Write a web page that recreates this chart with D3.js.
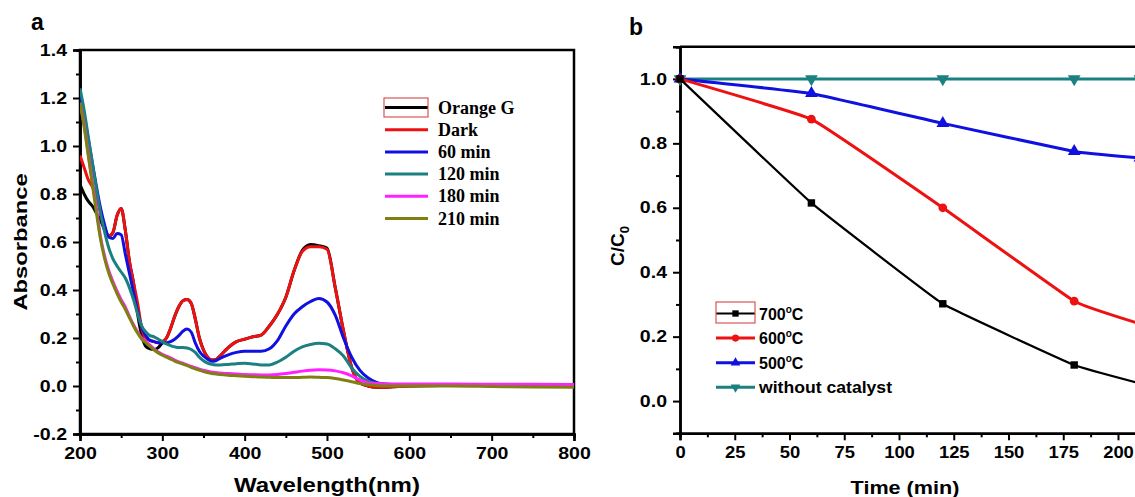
<!DOCTYPE html>
<html>
<head>
<meta charset="utf-8">
<script src="https://cdn.jsdelivr.net/npm/d3@7"></script>
<style>
  body { margin: 0; background: #fff; }
  svg { display: block; }
  .tick text { font-family: Arial, "Liberation Sans", sans-serif; font-weight: bold; }
</style>
</head>
<body>
<div id="chart"></div>
<script>
// ---- panel a : UV-vis spectra ----
var wavelength = [200,205,210,215,220,225,230,235,240,245,250,255,260,265,270,275,280,285,290,295,
  300,305,310,315,320,325,330,335,340,345,350,355,360,365,370,380,390,400,410,420,
  430,440,450,460,470,480,490,500,510,520,530,540,550,560,570,580,600,650,700,750,800];

var orangeG = [0.84,0.80,0.77,0.75,0.72,0.69,0.65,0.625,0.64,0.71,0.74,0.65,0.52,0.43,0.30,0.21,0.165,0.155,0.152,0.16,
  0.18,0.2,0.24,0.29,0.33,0.355,0.36,0.345,0.28,0.2,0.15,0.12,0.108,0.11,0.125,0.16,0.185,0.195,0.205,0.212,
  0.25,0.30,0.37,0.48,0.565,0.59,0.585,0.575,0.41,0.23,0.077,0.012,0.0,-0.005,-0.005,-0.003,0.0,0.002,0.003,0.003,0.002];
var dark = [0.96,0.91,0.86,0.83,0.79,0.72,0.66,0.625,0.64,0.71,0.74,0.65,0.52,0.43,0.345,0.24,0.2,0.19,0.185,0.18,
  0.185,0.2,0.24,0.29,0.33,0.355,0.36,0.345,0.28,0.2,0.15,0.12,0.108,0.11,0.125,0.16,0.185,0.195,0.205,0.212,
  0.25,0.30,0.37,0.48,0.56,0.58,0.58,0.57,0.41,0.23,0.077,0.012,0.0,-0.005,-0.005,-0.003,0.0,0.002,0.003,0.003,0.002];
var min60 = [1.21,1.13,1.03,0.93,0.83,0.74,0.67,0.62,0.615,0.635,0.63,0.55,0.47,0.39,0.31,0.245,0.21,0.19,0.185,0.18,
  0.18,0.18,0.185,0.195,0.21,0.228,0.237,0.225,0.18,0.145,0.125,0.112,0.103,0.105,0.115,0.13,0.14,0.145,0.145,0.145,
  0.155,0.19,0.25,0.30,0.33,0.352,0.365,0.35,0.295,0.2,0.12,0.065,0.033,0.015,0.008,0.006,0.005,0.005,0.005,0.004,0.003];
var min120 = [1.24,1.15,1.04,0.93,0.82,0.72,0.64,0.575,0.53,0.5,0.475,0.45,0.41,0.36,0.30,0.25,0.225,0.21,0.205,0.195,
  0.185,0.175,0.168,0.163,0.16,0.16,0.158,0.152,0.14,0.12,0.105,0.095,0.09,0.088,0.088,0.09,0.093,0.095,0.092,0.088,
  0.088,0.1,0.12,0.145,0.163,0.173,0.178,0.175,0.155,0.125,0.075,0.04,0.02,0.01,0.007,0.006,0.005,0.005,0.004,0.004,0.003];
var min180 = [1.18,1.09,0.97,0.85,0.74,0.62,0.54,0.48,0.435,0.395,0.36,0.33,0.29,0.255,0.225,0.2,0.185,0.17,0.155,0.142,
  0.132,0.124,0.117,0.108,0.1,0.095,0.088,0.082,0.076,0.07,0.066,0.062,0.058,0.056,0.054,0.052,0.05,0.048,0.047,0.046,
  0.046,0.048,0.052,0.057,0.062,0.066,0.068,0.067,0.063,0.055,0.042,0.025,0.014,0.01,0.008,0.008,0.008,0.008,0.007,0.007,0.006];
var min210 = [1.18,1.08,0.96,0.84,0.72,0.61,0.53,0.47,0.425,0.385,0.35,0.32,0.285,0.25,0.22,0.195,0.18,0.165,0.15,0.138,
  0.128,0.12,0.112,0.104,0.097,0.091,0.085,0.078,0.072,0.066,0.06,0.056,0.052,0.05,0.048,0.045,0.043,0.041,0.039,0.037,
  0.036,0.035,0.035,0.035,0.036,0.037,0.036,0.035,0.031,0.025,0.018,0.01,0.005,0.002,0.0,0.0,0.0,0.0,-0.002,-0.004,-0.005];

var specNames = ["Orange G", "Dark", "60 min", "120 min", "180 min", "210 min"];
var specColors = ["#000000", "#ee1111", "#1010e0", "#1a8080", "#ff22ff", "#808010"];
var specValues = [orangeG, dark, min60, min120, min180, min210];

var aXTicks = [200, 300, 400, 500, 600, 700, 800];
var aXMinor = [250, 350, 450, 550, 650, 750];
var aYTicks = [-0.2, 0, 0.2, 0.4, 0.6, 0.8, 1.0, 1.2, 1.4];
var aYMinor = [-0.1, 0.1, 0.3, 0.5, 0.7, 0.9, 1.1, 1.3];

// ---- panel b : C/C0 vs time ----
var time = [0, 60, 120, 180, 210];
var c700 = [1.0, 0.615, 0.302, 0.112, 0.055];
var c600 = [1.0, 0.875, 0.60, 0.31, 0.24];
var c500 = [1.0, 0.955, 0.862, 0.775, 0.755];
var cNone = [1.0, 1.0, 1.0, 1.0, 1.0];

var kinNames = ["700", "600", "500", "without catalyst"];
var kinColors = ["#000000", "#ee1111", "#1010e0", "#1a8080"];
var kinValues = [c700, c600, c500, cNone];

var bXTicks = [0, 25, 50, 75, 100, 125, 150, 175, 200];
var bXMinor = [12.5, 37.5, 62.5, 87.5, 112.5, 137.5, 162.5, 187.5];
var bYTicks = [0, 0.2, 0.4, 0.6, 0.8, 1.0];
var bYMinor = [-0.1, 0.1, 0.3, 0.5, 0.7, 0.9, 1.1];

var W = 1135, H = 497;
var svg = d3.select("#chart").append("svg").attr("width", W).attr("height", H);

var sans = "Arial, 'Liberation Sans', sans-serif";

// stretch text horizontally like the source figure
function stretch(sel, k) {
  sel.each(function() {
    var w = this.getComputedTextLength();
    this.setAttribute("textLength", w * k);
    this.setAttribute("lengthAdjust", "spacingAndGlyphs");
  });
}

function styleAxis(g, fs) {
  g.select(".domain").attr("stroke", "#000").attr("stroke-width", 2.5);
  g.selectAll(".tick line").attr("stroke", "#000").attr("stroke-width", 2);
  g.selectAll(".tick text").attr("font-size", fs).attr("fill", "#000");
}

// ================= panel a =================
var xA = d3.scaleLinear().domain([200, 800]).range([80, 574]);
var yA = d3.scaleLinear().domain([-0.2, 1.4]).range([434, 50]);

var gA = svg.append("g");

gA.append("rect").attr("x", 80).attr("y", 50).attr("width", 494).attr("height", 384)
  .attr("fill", "none").attr("stroke", "#000").attr("stroke-width", 2.5);

var axA1 = gA.append("g").attr("transform", "translate(0,434)")
  .call(d3.axisBottom(xA).tickValues(aXMinor).tickSize(4).tickFormat(""));
styleAxis(axA1, 14);
var axA2 = gA.append("g").attr("transform", "translate(0,434)")
  .call(d3.axisBottom(xA).tickValues(aXTicks).tickSize(7).tickPadding(7).tickFormat(d3.format("d")));
styleAxis(axA2, 16);
var axA3 = gA.append("g").attr("transform", "translate(80,0)")
  .call(d3.axisLeft(yA).tickValues(aYMinor).tickSize(4).tickFormat(""));
styleAxis(axA3, 14);
var axA4 = gA.append("g").attr("transform", "translate(80,0)")
  .call(d3.axisLeft(yA).tickValues(aYTicks).tickSize(7).tickPadding(6).tickFormat(function(d) { return d.toFixed(1); }));
styleAxis(axA4, 16);
stretch(axA2.selectAll(".tick text"), 1.22);
stretch(axA4.selectAll(".tick text"), 1.22);

gA.append("defs").append("clipPath").attr("id", "clipA")
  .append("rect").attr("x", 80).attr("y", 50).attr("width", 494).attr("height", 384);

var lineA = d3.line()
  .x(function(d) { return xA(d[0]); })
  .y(function(d) { return yA(d[1]); })
  .curve(d3.curveMonotoneX);

gA.append("g").attr("clip-path", "url(#clipA)")
  .selectAll("path").data(specValues).enter().append("path")
  .attr("d", function(vals) { return lineA(wavelength.map(function(w, i) { return [w, vals[i]]; })); })
  .attr("fill", "none")
  .attr("stroke", function(d, i) { return specColors[i]; })
  .attr("stroke-width", 3)
  .attr("stroke-linejoin", "round");

// legend a
var legA = gA.append("g");
legA.selectAll("line").data(specNames).enter().append("line")
  .attr("x1", 385).attr("x2", 428)
  .attr("y1", function(d, i) { return 107.5 + i * 22.2; })
  .attr("y2", function(d, i) { return 107.5 + i * 22.2; })
  .attr("stroke", function(d, i) { return specColors[i]; })
  .attr("stroke-width", 3);
legA.selectAll("text").data(specNames).enter().append("text")
  .attr("x", 438)
  .attr("y", function(d, i) { return 113.5 + i * 22.2; })
  .attr("font-family", "'Times New Roman', 'Liberation Serif', serif")
  .attr("font-weight", "bold").attr("font-size", 18)
  .text(function(d) { return d; });
legA.append("rect").attr("x", 384).attr("y", 98).attr("width", 44).attr("height", 19)
  .attr("fill", "none").attr("stroke", "#d95555").attr("stroke-width", 1.2);

gA.append("text").attr("x", 31).attr("y", 30)
  .attr("font-family", sans).attr("font-weight", "bold").attr("font-size", 23).text("a");

var titA = gA.append("text").attr("x", 327).attr("y", 492).attr("text-anchor", "middle")
  .attr("font-family", sans).attr("font-weight", "bold").attr("font-size", 20).text("Wavelength(nm)");
stretch(titA, 1.2);
var ylA = gA.append("text").attr("transform", "translate(27,242) rotate(-90)").attr("text-anchor", "middle")
  .attr("font-family", sans).attr("font-weight", "bold").attr("font-size", 19).text("Absorbance");
stretch(ylA, 1.25);

// ================= panel b =================
var xB = d3.scaleLinear().domain([0, 240]).range([680, 680 + 240 * 2.19]);
var yB = d3.scaleLinear().domain([-0.1, 1.1]).range([433.3, 46.7]);

var gB = svg.append("g");

gB.append("line").attr("x1", 680).attr("x2", W + 5).attr("y1", 46.7).attr("y2", 46.7)
  .attr("stroke", "#000").attr("stroke-width", 2.5);

var axB1 = gB.append("g").attr("transform", "translate(0,433.3)")
  .call(d3.axisBottom(xB).tickValues(bXMinor).tickSize(4).tickFormat(""));
styleAxis(axB1, 14);
var axB2 = gB.append("g").attr("transform", "translate(0,433.3)")
  .call(d3.axisBottom(xB).tickValues(bXTicks).tickSize(7).tickPadding(6).tickFormat(d3.format("d")));
styleAxis(axB2, 16);
var axB3 = gB.append("g").attr("transform", "translate(680,0)")
  .call(d3.axisLeft(yB).tickValues(bYMinor).tickSize(4).tickFormat(""));
styleAxis(axB3, 14);
var axB4 = gB.append("g").attr("transform", "translate(680,0)")
  .call(d3.axisLeft(yB).tickValues(bYTicks).tickSize(7).tickPadding(6).tickFormat(function(d) { return d.toFixed(1); }));
styleAxis(axB4, 16);
stretch(axB2.selectAll(".tick text"), 1.15);
stretch(axB4.selectAll(".tick text"), 1.22);

var lineB = d3.line()
  .x(function(d) { return xB(d[0]); })
  .y(function(d) { return yB(d[1]); })
  .curve(d3.curveCardinal.tension(0.75));

var symbols = [
  d3.symbol().type(d3.symbolSquare).size(55),
  d3.symbol().type(d3.symbolCircle).size(60),
  d3.symbol().type(d3.symbolTriangle).size(70),
  d3.symbol().type(d3.symbolTriangle).size(70)
];
var rot = [0, 0, 0, 180];

// draw in reverse so black is on top at the origin
[3, 2, 1, 0].forEach(function(s) {
  var pts = time.map(function(t, i) { return [t, kinValues[s][i]]; });
  gB.append("path").attr("d", lineB(pts))
    .attr("fill", "none").attr("stroke", kinColors[s])
    .attr("stroke-width", s === 0 ? 2.2 : 3);
  gB.selectAll(null).data(pts).enter().append("path")
    .attr("d", symbols[s])
    .attr("transform", function(d) { return "translate(" + xB(d[0]) + "," + yB(d[1]) + ") rotate(" + rot[s] + ")"; })
    .attr("fill", kinColors[s]);
});

// legend b
var legB = gB.append("g");
kinNames.forEach(function(n, i) {
  var y = 313.5 + i * 24.6;
  legB.append("line").attr("x1", 716).attr("x2", 755).attr("y1", y).attr("y2", y)
    .attr("stroke", kinColors[i]).attr("stroke-width", i === 0 ? 2.2 : 3);
  legB.append("path")
    .attr("d", d3.symbol().type(i === 1 ? d3.symbolCircle : (i === 0 ? d3.symbolSquare : d3.symbolTriangle)).size(40))
    .attr("transform", "translate(735.5," + y + ") rotate(" + rot[i] + ")")
    .attr("fill", kinColors[i]);
  var t = legB.append("text").attr("x", 759).attr("y", y + 6)
    .attr("font-family", sans).attr("font-weight", "bold").attr("font-size", 16);
  if (i < 3) {
    t.append("tspan").text(n);
    t.append("tspan").attr("dy", -7).attr("font-size", 10).text("o");
    t.append("tspan").attr("dy", 7).text("C");
  } else {
    t.text(n);
    stretch(t, 1.1);
  }
});
legB.append("rect").attr("x", 716).attr("y", 302).attr("width", 39).attr("height", 21)
  .attr("fill", "none").attr("stroke", "#d95555").attr("stroke-width", 1.2);

gB.append("text").attr("x", 629).attr("y", 35)
  .attr("font-family", sans).attr("font-weight", "bold").attr("font-size", 23).text("b");

var titB = gB.append("text").attr("x", 905).attr("y", 494).attr("text-anchor", "middle")
  .attr("font-family", sans).attr("font-weight", "bold").attr("font-size", 18).text("Time (min)");
stretch(titB, 1.2);

var ylB = gB.append("text").attr("transform", "translate(624,246) rotate(-90)").attr("text-anchor", "middle")
  .attr("font-family", sans).attr("font-weight", "bold").attr("font-size", 19);
ylB.append("tspan").text("C/C");
ylB.append("tspan").attr("dy", 5).attr("font-size", 13).text("0");
</script>
</body>
</html>
